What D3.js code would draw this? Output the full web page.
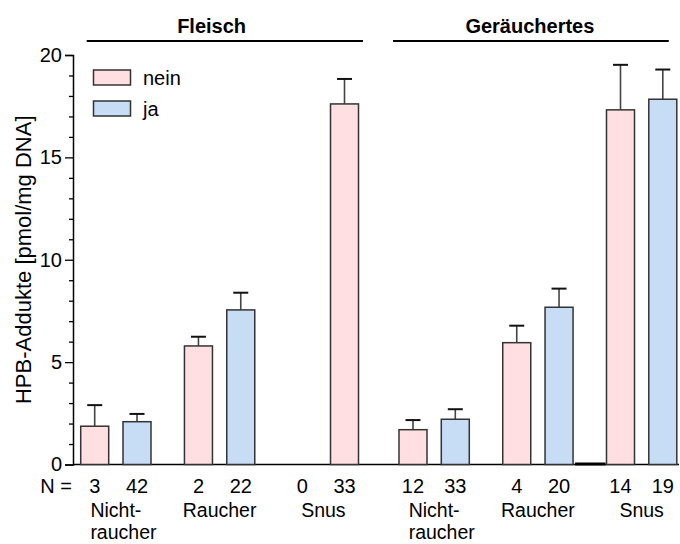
<!DOCTYPE html>
<html><head><meta charset="utf-8">
<script src="https://cdn.jsdelivr.net/npm/d3@7"></script>
<style>
body{margin:0;background:#fff}
svg{display:block}
text{font-family:"Liberation Sans",Arial,sans-serif;fill:#000}
</style>
</head><body>
<svg id="c" width="680" height="544"></svg>
<script>
// ---- data ----
const panels = ["Fleisch", "Geräuchertes"];
const groups = ["Nichtraucher", "Raucher", "Snus"];
const groupLabels = [["Nicht-", "raucher"], ["Raucher"], ["Snus"]];
const seriesNames = ["nein", "ja"];
const barPanel = ["Fleisch","Fleisch","Fleisch","Fleisch","Fleisch","Fleisch",
                  "Geräuchertes","Geräuchertes","Geräuchertes","Geräuchertes","Geräuchertes","Geräuchertes"];
const barGroup = ["Nichtraucher","Nichtraucher","Raucher","Raucher","Snus","Snus",
                  "Nichtraucher","Nichtraucher","Raucher","Raucher","Snus","Snus"];
const barSlot = [0,1,0,1,0,1,0,1,0,1,0,1];
const barSeries = ["nein","ja","nein","ja","ja","nein","nein","ja","nein","ja","nein","ja"];
const barN = [3, 42, 2, 22, 0, 33, 12, 33, 4, 20, 14, 19];
const barMean = [1.87, 2.09, 5.79, 7.55, null, 17.61, 1.70, 2.21, 5.95, 7.68, 17.32, 17.84];
const barErr = [2.90, 2.47, 6.24, 8.39, null, 18.83, 2.17, 2.70, 6.78, 8.59, 19.52, 19.29];
const yMajorTicks = [0, 5, 10, 15, 20];
const yLabel = "HPB-Addukte [pmol/mg DNA]";

// ---- layout ----
const colors = {nein: "#FFDFE1", ja: "#C7DDF6"};
const svg = d3.select("#c");
const y = d3.scaleLinear().domain([0, 20]).range([464.5, 55]);
const xPanel = d3.scaleBand().domain(panels).range([80.7, 676.8]).paddingInner(0.1272);
const xGroup = d3.scaleBand().domain(groups).range([0, xPanel.bandwidth()]).paddingInner(0.3224);
const xSlot = d3.scaleBand().domain([0, 1]).range([0, xGroup.bandwidth()]).paddingInner(0.338);
const bw = xSlot.bandwidth();
const bars = barN.map((n, i) => ({panel: barPanel[i], group: barGroup[i], slot: barSlot[i],
  series: barSeries[i], n, mean: barMean[i], err: barErr[i]}));
const bx = d => xPanel(d.panel) + xGroup(d.group) + xSlot(d.slot);
const axisX = 73;

// y axis
const yAxis = d3.axisLeft(y).tickValues(yMajorTicks).tickSize(8).tickPadding(3).tickFormat(d3.format("d"));
const gy = svg.append("g").attr("transform", `translate(${axisX},0)`).call(yAxis);
gy.select(".domain").attr("stroke", "#000").attr("stroke-width", 1.5);
gy.selectAll(".tick line").attr("stroke", "#000").attr("stroke-width", 1.3);
gy.selectAll(".tick text").attr("font-size", 20).attr("font-family", '"Liberation Sans",Arial,sans-serif').attr("fill", "#000");
const minor = d3.range(0, 21).filter(v => v % 5 !== 0);
svg.append("g").attr("transform", `translate(${axisX},0)`)
  .call(d3.axisLeft(y).tickValues(minor).tickSize(4).tickFormat(""))
  .call(g => g.select(".domain").remove())
  .selectAll(".tick line").attr("stroke", "#000").attr("stroke-width", 1.3);

svg.append("text").attr("transform", `translate(31,${(y(0) + y(20)) / 2}) rotate(-90)`)
  .attr("text-anchor", "middle").attr("font-size", 22).text(yLabel);

// baseline
svg.append("line").attr("x1", axisX).attr("x2", 679).attr("y1", y(0)).attr("y2", y(0))
  .attr("stroke", "#000").attr("stroke-width", 1.5);

// bars
const drawn = bars.filter(d => d.mean != null);
svg.append("g").selectAll("line.ev").data(drawn).join("line")
  .attr("x1", d => bx(d) + bw / 2).attr("x2", d => bx(d) + bw / 2)
  .attr("y1", d => y(d.mean)).attr("y2", d => y(d.err))
  .attr("stroke", "#444").attr("stroke-width", 1.6);
svg.append("g").selectAll("line.cap").data(drawn).join("line")
  .attr("x1", d => bx(d) + bw / 2 - 7.5).attr("x2", d => bx(d) + bw / 2 + 7.5)
  .attr("y1", d => y(d.err)).attr("y2", d => y(d.err))
  .attr("stroke", "#111").attr("stroke-width", 2);
svg.append("g").selectAll("rect").data(drawn).join("rect")
  .attr("x", d => bx(d)).attr("width", bw)
  .attr("y", d => y(d.mean)).attr("height", d => y(0) - y(d.mean))
  .attr("fill", d => colors[d.series]).attr("stroke", "#333").attr("stroke-width", 1.5);

// thick baseline piece between Raucher and Snus (Geräuchertes)
{
  const j = bars.find(d => d.panel === "Geräuchertes" && d.group === "Raucher" && d.slot === 1);
  const k = bars.find(d => d.panel === "Geräuchertes" && d.group === "Snus" && d.slot === 0);
  svg.append("line").attr("x1", bx(j) + bw + 2).attr("x2", bx(k) - 1)
    .attr("y1", y(0) - 0.5).attr("y2", y(0) - 0.5).attr("stroke", "#000").attr("stroke-width", 3);
}

// N labels
svg.append("text").attr("x", 72).attr("y", 493).attr("text-anchor", "end").attr("font-size", 20).text("N =");
svg.append("g").selectAll("text").data(bars).join("text")
  .attr("x", d => bx(d) + bw / 2).attr("y", 493).attr("text-anchor", "middle")
  .attr("font-size", 20).text(d => d.n);

// group labels
panels.forEach(p => {
  groups.forEach((g, gi) => {
    const cx = xPanel(p) + xGroup(g) + xGroup.bandwidth() / 2;
    const lines = groupLabels[gi];
    const t0 = svg.append("text").attr("x", cx).attr("y", 517).attr("text-anchor", "middle")
      .attr("font-size", 19.5).text(lines[0]);
    if (lines.length > 1) {
      const w = t0.node().getComputedTextLength();
      svg.append("text").attr("x", cx - w / 2).attr("y", 539).attr("text-anchor", "start")
        .attr("font-size", 19.5).text(lines[1]);
    }
  });
});

// panel titles and brackets
const bracketAdj = {"Fleisch": [6, 4.5], "Geräuchertes": [-6, -8]};
panels.forEach(p => {
  const x0 = xPanel(p), x1 = x0 + xPanel.bandwidth();
  svg.append("line").attr("x1", x0 + bracketAdj[p][0]).attr("x2", x1 + bracketAdj[p][1])
    .attr("y1", 41).attr("y2", 41).attr("stroke", "#000").attr("stroke-width", 2);
  svg.append("text").attr("x", (x0 + x1) / 2 - 8).attr("y", 33).attr("text-anchor", "middle")
    .attr("font-size", 20).attr("font-weight", "bold").text(p);
});

// legend
const leg = svg.append("g");
seriesNames.forEach((s, i) => {
  const yy = 70 + i * 31;
  leg.append("rect").attr("x", 93.5).attr("y", yy).attr("width", 37).attr("height", 15)
    .attr("fill", colors[s]).attr("stroke", "#333").attr("stroke-width", 1.5);
  leg.append("text").attr("x", 143).attr("y", yy + 15).attr("font-size", 20).text(s);
});
</script>
</body></html>
